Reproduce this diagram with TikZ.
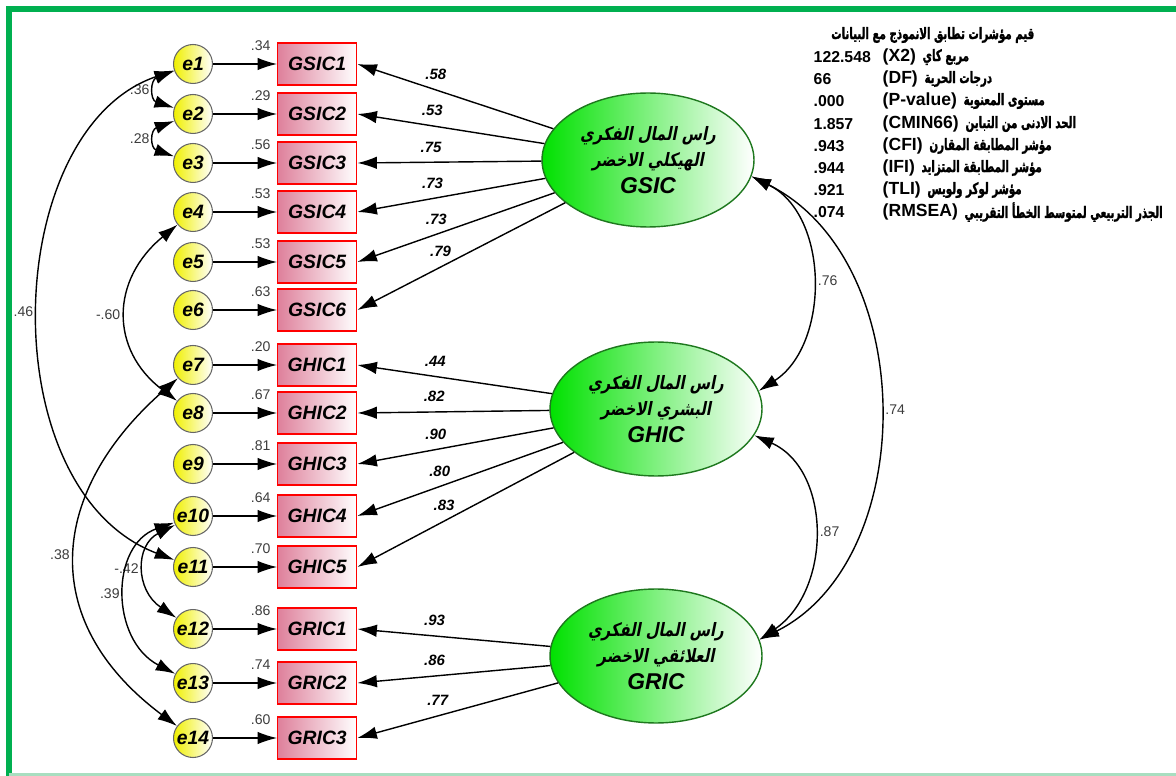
\documentclass[tikz,border=0pt]{standalone}
\usepackage{fontspec}
\setmainfont{Liberation Sans}
\newfontfamily\latinfont[Script=Latin]{Liberation Sans}
\newfontfamily\arabicfont[Script=Arabic,FakeStretch=0.65,FakeBold=1.5]{DejaVu Sans}
\newfontfamily\arabicslfont[Script=Arabic,FakeSlant=0.2,FakeStretch=0.8]{DejaVu Sans}
\TeXXeTstate=1
\usetikzlibrary{positioning}
\usetikzlibrary{arrows.meta}
\usetikzlibrary{shapes.geometric}
\definecolor{framegreen}{RGB}{0,176,80}
\definecolor{framelight}{RGB}{168,222,192}
\definecolor{boxpink}{RGB}{222,128,155}
\definecolor{latgreen}{RGB}{0,225,0}
\definecolor{latedge}{RGB}{30,120,30}
\definecolor{errfill}{RGB}{240,240,0}
\definecolor{labgray}{RGB}{60,60,60}
\newcommand{\artext}[1]{{\arabicfont\bfseries\beginR #1\endR}}
\newcommand{\arslant}[1]{{\arabicslfont\bfseries\beginR #1\endR}}

\begin{document}
\begin{tikzpicture}[x=0.02cm,y=-0.02cm,>={Latex[length=3.9mm,width=2.5mm]},thick,node distance=1.28cm,
                    err node/.style={circle,draw=gray!80!black,line width=0.6pt,minimum size=0.78cm,inner sep=0pt,
                      left color=errfill,right color=white,font=\fontsize{11}{13}\selectfont\bfseries\itshape},
                    obs node/.style={rectangle,draw=red,line width=0.8pt,minimum width=1.58cm,minimum height=0.84cm,
                      inner sep=0pt,left color=boxpink,right color=white,font=\fontsize{11}{13}\selectfont\bfseries\itshape},
                    lat node/.style={ellipse,draw=latedge,line width=0.8pt,minimum width=4.24cm,minimum height=2.68cm,
                      inner sep=0pt,left color=latgreen,right color=white,align=center,font=\fontsize{10.5}{15}\selectfont},
                    var lab/.style={anchor=east,yshift=-2pt,text=labgray,font=\latinfont\fontsize{8}{9}\selectfont},
                    coef/.style={pos=0.6,above=2pt,font=\fontsize{8.5}{10}\selectfont\bfseries\itshape},
                    cov lab/.style={midway,text=labgray,font=\latinfont\fontsize{8}{9}\selectfont},
                    info/.style={anchor=west,inner sep=0pt,font=\fontsize{9}{11}\selectfont\bfseries},
                    paren/.style={info,font=\fontsize{10}{11}\selectfont\bfseries}]
\useasboundingbox (0,0) rectangle (1176,776);
% frame
\draw[framegreen,line width=3.2pt] (9,776) -- (9,9) -- (1176,9);
\draw[framelight,line width=1.2pt] (9,774.5) -- (1176,774.5);

% error terms
\node[err node] (e1) at (193,64) {e1};
\node[err node] (e2) at (193,114) {e2};
\node[err node] (e3) at (193,163) {e3};
\node[err node] (e4) at (193,212) {e4};
\node[err node] (e5) at (193,262) {e5};
\node[err node] (e6) at (193,310) {e6};
\node[err node] (e7) at (193,365) {e7};
\node[err node] (e8) at (193,413) {e8};
\node[err node] (e9) at (193,464) {e9};
\node[err node] (e10) at (193,516) {e10};
\node[err node] (e11) at (193,567) {e11};
\node[err node] (e12) at (193,629) {e12};
\node[err node] (e13) at (193,683) {e13};
\node[err node] (e14) at (193,738) {e14};

% indicators
\node[obs node] (GSIC1) [right=of e1, label={[var lab]north west:.34}] {GSIC1};
\node[obs node] (GSIC2) [right=of e2, label={[var lab]north west:.29}] {GSIC2};
\node[obs node] (GSIC3) [right=of e3, label={[var lab]north west:.56}] {GSIC3};
\node[obs node] (GSIC4) [right=of e4, label={[var lab]north west:.53}] {GSIC4};
\node[obs node] (GSIC5) [right=of e5, label={[var lab]north west:.53}] {GSIC5};
\node[obs node] (GSIC6) [right=of e6, label={[var lab]north west:.63}] {GSIC6};
\node[obs node] (GHIC1) [right=of e7, label={[var lab]north west:.20}] {GHIC1};
\node[obs node] (GHIC2) [right=of e8, label={[var lab]north west:.67}] {GHIC2};
\node[obs node] (GHIC3) [right=of e9, label={[var lab]north west:.81}] {GHIC3};
\node[obs node] (GHIC4) [right=of e10, label={[var lab]north west:.64}] {GHIC4};
\node[obs node] (GHIC5) [right=of e11, label={[var lab]north west:.70}] {GHIC5};
\node[obs node] (GRIC1) [right=of e12, label={[var lab]north west:.86}] {GRIC1};
\node[obs node] (GRIC2) [right=of e13, label={[var lab]north west:.74}] {GRIC2};
\node[obs node] (GRIC3) [right=of e14, label={[var lab]north west:.60}] {GRIC3};

% latent factors
\node[lat node] (GSIC) at (648,160) {\arslant{راس المال الفكري}\\\arslant{الهيكلي الاخضر}\\{\fontsize{13}{15}\selectfont\bfseries\itshape GSIC}};
\node[lat node] (GHIC) at (656,409) {\arslant{راس المال الفكري}\\\arslant{البشري الاخضر}\\{\fontsize{13}{15}\selectfont\bfseries\itshape GHIC}};
\node[lat node] (GRIC) at (656,656) {\arslant{راس المال الفكري}\\\arslant{العلائقي الاخضر}\\{\fontsize{13}{15}\selectfont\bfseries\itshape GRIC}};

% error paths
\path[->] (e1) edge (GSIC1)  (e2) edge (GSIC2)  (e3) edge (GSIC3)
          (e4) edge (GSIC4)  (e5) edge (GSIC5)  (e6) edge (GSIC6)
          (e7) edge (GHIC1)  (e8) edge (GHIC2)  (e9) edge (GHIC3)
          (e10) edge (GHIC4) (e11) edge (GHIC5)
          (e12) edge (GRIC1) (e13) edge (GRIC2) (e14) edge (GRIC3);

% loadings
\path[->]
  (GSIC) edge node[coef] {.58} (GSIC1.east)
         edge node[coef] {.53} (GSIC2.east)
         edge node[coef] {.75} (GSIC3.east)
         edge node[coef] {.73} (GSIC4.east)
         edge node[coef] {.73} (GSIC5.east)
         edge node[coef] {.79} (GSIC6.east)
  (GHIC) edge node[coef] {.44} (GHIC1.east)
         edge node[coef] {.82} (GHIC2.east)
         edge node[coef] {.90} (GHIC3.east)
         edge node[coef] {.80} (GHIC4.east)
         edge node[coef] {.83} (GHIC5.east)
  (GRIC) edge node[coef] {.93} (GRIC1.east)
         edge node[coef] {.86} (GRIC2.east)
         edge node[coef] {.77} (GRIC3.east);

% covariances
\draw[<->] (e1) .. controls (150,80) and (150,100) .. (e2) node[cov lab,left] {.36};
\draw[<->] (e2) .. controls (150,130) and (150,148) .. (e3) node[cov lab,left] {.28};
\draw[<->] (e4) .. controls (110,280) and (110,350) .. (e8) node[cov lab,left] {-.60};
\draw[<->] (e1) .. controls (0,130) and (-10,490) .. (e11) node[cov lab,left] {.46};
\draw[<->] (e7) .. controls (50,490) and (35,620) .. (e14) node[cov lab,left] {.38};
\draw[<->] (e10) .. controls (135,545) and (135,590) .. (e12) node[cov lab,left] {-.42};
\draw[<->] (e10) .. controls (110,545) and (110,640) .. (e13) node[cov lab,left] {.39};
\draw[<->] (GSIC.-9) .. controls (830,215) and (830,345) .. (GHIC.10) node[cov lab,right] {.76};
\draw[<->] (GSIC.-9) .. controls (920,260) and (920,560) .. (GRIC.9) node[cov lab,right] {.74};
\draw[<->] (GHIC.-15) .. controls (832,470) and (832,590) .. (GRIC.9) node[cov lab,right] {.87};

% fit indices
\node[info,anchor=east] (fittitle) at (1035,35) {\artext{قيم مؤشرات تطابق الانموذج مع البيانات}};
\node[info] (chiv) at (813,57) {122.548};
\node[paren] (chi) at (882,57) {(X2)};
\node[info,right=3pt of chi] (chiar) {\artext{مربع كاي}};
\node[info] (dfv) at (813,79) {66};
\node[paren] (df) at (882,79) {(DF)};
\node[info,right=3pt of df] (dfar) {\artext{درجات الحرية}};
\node[info] (pv) at (813,101) {.000};
\node[paren] (p) at (882,101) {(P-value)};
\node[info,right=3pt of p] (par) {\artext{مستوى المعنوية}};
\node[info] (cminv) at (813,124) {1.857};
\node[paren] (cmin) at (882,124) {(CMIN66)};
\node[info,right=3pt of cmin] (cminar) {\artext{الحد الادنى من التباين}};
\node[info] (cfiv) at (813,146) {.943};
\node[paren] (cfi) at (882,146) {(CFI)};
\node[info,right=3pt of cfi] (cfiar) {\artext{مؤشر المطابقة المقارن}};
\node[info] (ifiv) at (813,168) {.944};
\node[paren] (ifi) at (882,168) {(IFI)};
\node[info,right=3pt of ifi] (ifiar) {\artext{مؤشر المطابقة المتزايد}};
\node[info] (tliv) at (813,190) {.921};
\node[paren] (tli) at (882,190) {(TLI)};
\node[info,right=3pt of tli] (tliar) {\artext{مؤشر لوكر ولويس}};
\node[info] (rmseav) at (813,212) {.074};
\node[paren] (rmsea) at (882,212) {(RMSEA)};
\node[info,right=3pt of rmsea] (rmseaar) {\artext{الجذر التربيعي لمتوسط الخطأ التقريبي}};
\end{tikzpicture}
\end{document}
